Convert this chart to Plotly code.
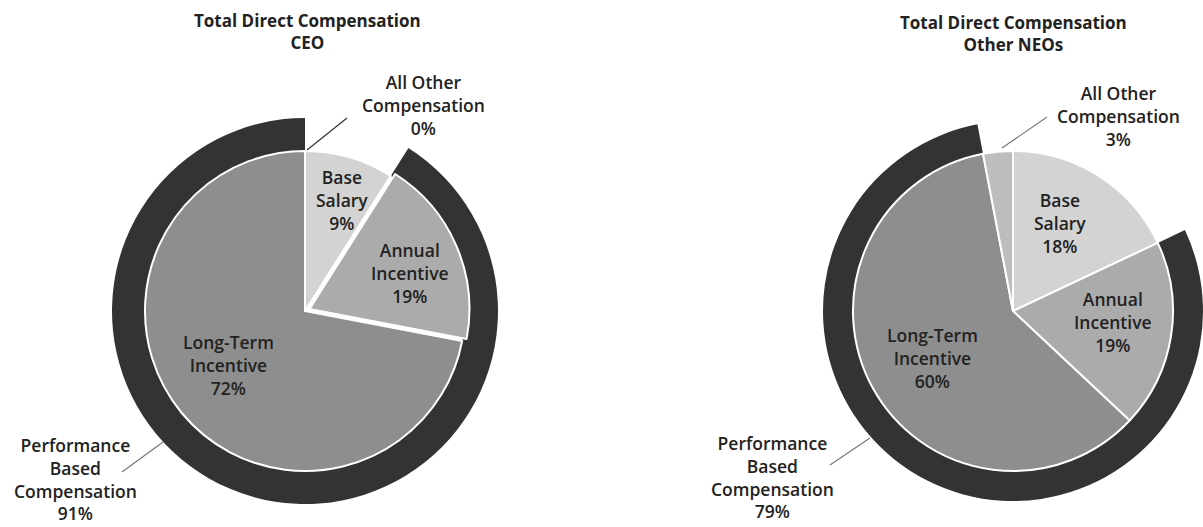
import plotly.graph_objects as go

W, H = 1203, 527

# ---- data ----
categories = ["Base Salary", "Annual Incentive", "Long-Term Incentive", "All Other Compensation"]
label_lines = ["Base<br>Salary", "Annual<br>Incentive", "Long-Term<br>Incentive", "All Other<br>Compensation"]
ceo_values = [9, 19, 72, 0]
neo_values = [18, 19, 60, 3]
perf_label = "Performance<br>Based<br>Compensation"
ceo_perf = 91
neo_perf = 79
titles = ["Total Direct Compensation<br>CEO", "Total Direct Compensation<br>Other NEOs"]

slice_colors = ["#d3d3d3", "#ababab", "#8e8e8e", "#bdbdbd"]
ring_color = "#333333"
text_color = "#222222"
FONT = "Open Sans"


def dom(cx, cy, half):
    return dict(x=[(cx - half) / W, min(1.0, (cx + half) / W)],
                y=[1 - (cy + half) / H, 1 - (cy - half) / H])


fig = go.Figure()

R_IN = 160
pies = [
    dict(cx=305, cy=311, vals=ceo_values, perf=ceo_perf, pull=[0, 0.03, 0, 0], rout=193),
    dict(cx=1013, cy=311, vals=neo_values, perf=neo_perf, pull=[0, 0, 0, 0], rout=190),
]

for p in pies:
    v = p["vals"]
    ring_vals = [v[0], v[1] + v[2], v[3]]
    fig.add_trace(go.Pie(
        values=ring_vals, sort=False, direction="clockwise", rotation=0,
        hole=R_IN / p["rout"],
        marker=dict(colors=["rgba(0,0,0,0)", ring_color, "rgba(0,0,0,0)"], line=dict(width=0)),
        textinfo="none", hoverinfo="skip", showlegend=False,
        domain=dom(p["cx"], p["cy"], p["rout"]),
    ))
    mp = max(p["pull"])
    fig.add_trace(go.Pie(
        values=v, labels=categories, sort=False, direction="clockwise", rotation=0,
        pull=p["pull"],
        marker=dict(colors=slice_colors, line=dict(color="white", width=2)),
        textinfo="none", showlegend=False,
        domain=dom(p["cx"], p["cy"], R_IN * (1 + mp)),
    ))

ann = []
lab_font = dict(family=FONT, size=17.5, color=text_color, weight=600)
tit_font = dict(family=FONT, size=17, color=text_color, weight=700)

def add_text(x, y, text, font=lab_font):
    ann.append(dict(x=x / W, y=1 - y / H, xref="paper", yref="paper", text=text,
                    showarrow=False, font=font, align="center",
                    xanchor="center", yanchor="middle"))

# titles
add_text(307, 31, titles[0], tit_font)
add_text(1013, 33, titles[1], tit_font)

# CEO labels
add_text(342, 200, f"{label_lines[0]}<br>{ceo_values[0]}%")
add_text(410, 273, f"{label_lines[1]}<br>{ceo_values[1]}%")
add_text(228, 365, f"{label_lines[2]}<br>{ceo_values[2]}%")
add_text(423, 105, f"{label_lines[3]}<br>{ceo_values[3]}%")
add_text(75, 479, f"{perf_label}<br>{ceo_perf}%")

# NEO labels
add_text(1060, 223, f"{label_lines[0]}<br>{neo_values[0]}%")
add_text(1113, 322, f"{label_lines[1]}<br>{neo_values[1]}%")
add_text(932, 358, f"{label_lines[2]}<br>{neo_values[2]}%")
add_text(1118, 116, f"{label_lines[3]}<br>{neo_values[3]}%")
add_text(772, 477, f"{perf_label}<br>{neo_perf}%")

shapes = []
def line(x0, y0, x1, y1, color="#555555"):
    shapes.append(dict(type="line", xref="paper", yref="paper",
                       x0=x0 / W, y0=1 - y0 / H, x1=x1 / W, y1=1 - y1 / H,
                       line=dict(color=color, width=1.2)))

line(307, 150, 347, 118, "#333333")
line(122, 472, 163, 442, "#777777")
line(1002, 148, 1047, 117, "#777777")
line(830, 465, 870, 438, "#777777")

fig.update_layout(width=W, height=H, autosize=False,
                  margin=dict(l=0, r=0, t=0, b=0),
                  paper_bgcolor="white", plot_bgcolor="white",
                  annotations=ann, shapes=shapes)

fig.write_html("out.html")
